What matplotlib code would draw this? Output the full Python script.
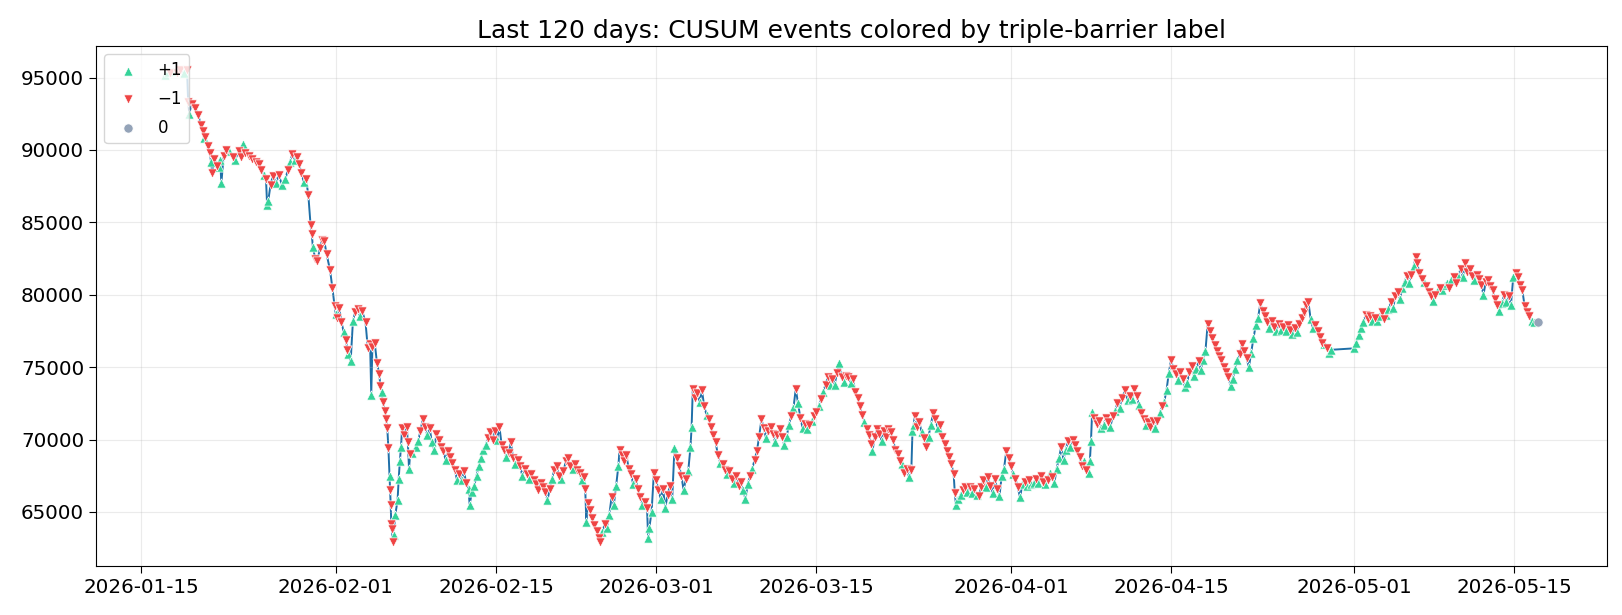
import numpy as np
import pandas as pd
import matplotlib
matplotlib.use('Agg')
import matplotlib.pyplot as plt
import matplotlib.dates as mdates

# event times as days after 2026-01-15, price at the event, triple-barrier label
start = pd.Timestamp('2026-01-15')

event_day = [
    2.05, 2.3, 2.5, 2.8, 3.1, 3.4, 3.7, 4.0, 4.1, 4.2,
    4.4, 4.7, 5.0, 5.2, 5.4, 5.5, 5.6, 5.8, 6.0, 6.1,
    6.2, 6.4, 6.6, 6.8, 6.9, 7.0, 7.2, 7.4, 7.7, 8.0,
    8.2, 8.5, 8.7, 8.9, 9.1, 9.4, 9.7, 10.0, 10.3, 10.5,
    10.7, 10.9, 11.0, 11.1, 11.3, 11.5, 11.8, 12.0, 12.3, 12.6,
    12.8, 13.0, 13.2, 13.4, 13.6, 13.8, 14.0, 14.2, 14.4, 14.6,
    14.8, 14.9, 15.0, 15.2, 15.4, 15.6, 15.8, 16.0, 16.2, 16.5,
    16.7, 16.9, 17.0, 17.1, 17.3, 17.5, 17.7, 17.9, 18.0, 18.1,
    18.3, 18.5, 18.7, 18.9, 19.1, 19.3, 19.6, 19.8, 20.0, 20.1,
    20.2, 20.4, 20.6, 20.8, 20.9, 21.0, 21.1, 21.3, 21.4, 21.5,
    21.6, 21.7, 21.75, 21.8, 21.85, 21.9, 22.0, 22.05, 22.2, 22.4,
    22.5, 22.6, 22.7, 22.8, 23.0, 23.2, 23.3, 23.4, 23.5, 23.7,
    24.0, 24.2, 24.4, 24.6, 24.8, 25.0, 25.2, 25.4, 25.6, 25.8,
    26.0, 26.2, 26.4, 26.6, 26.8, 27.0, 27.2, 27.4, 27.6, 27.8,
    28.0, 28.2, 28.4, 28.6, 28.7, 28.9, 29.1, 29.3, 29.5, 29.7,
    29.9, 30.1, 30.3, 30.5, 30.7, 30.9, 31.1, 31.3, 31.5, 31.7,
    31.9, 32.1, 32.3, 32.5, 32.7, 32.9, 33.1, 33.3, 33.5, 33.7,
    33.9, 34.1, 34.3, 34.5, 34.7, 34.9, 35.1, 35.3, 35.5, 35.7,
    35.9, 36.1, 36.3, 36.5, 36.7, 36.9, 37.1, 37.3, 37.5, 37.7,
    37.9, 38.1, 38.3, 38.5, 38.7, 38.8, 38.9, 39.0, 39.2, 39.4,
    39.6, 39.8, 40.0, 40.1, 40.3, 40.5, 40.7, 40.9, 41.1, 41.3,
    41.5, 41.7, 41.8, 42.0, 42.2, 42.4, 42.6, 42.8, 43.0, 43.2,
    43.4, 43.6, 43.8, 44.0, 44.2, 44.3, 44.4, 44.6, 44.8, 45.0,
    45.2, 45.4, 45.6, 45.8, 46.0, 46.2, 46.4, 46.6, 46.8, 47.0,
    47.2, 47.4, 47.6, 47.8, 48.0, 48.1, 48.2, 48.4, 48.6, 48.8,
    49.0, 49.2, 49.4, 49.6, 49.8, 50.0, 50.2, 50.4, 50.6, 50.8,
    51.0, 51.2, 51.4, 51.6, 51.8, 52.0, 52.2, 52.4, 52.6, 52.8,
    53.0, 53.2, 53.4, 53.6, 53.8, 54.0, 54.2, 54.4, 54.6, 54.8,
    55.0, 55.2, 55.4, 55.6, 55.8, 56.0, 56.2, 56.4, 56.6, 56.8,
    57.0, 57.2, 57.4, 57.6, 57.8, 58.0, 58.2, 58.4, 58.6, 58.8,
    59.0, 59.2, 59.4, 59.6, 59.8, 60.0, 60.2, 60.4, 60.6, 60.8,
    61.0, 61.2, 61.4, 61.6, 61.8, 62.0, 62.2, 62.4, 62.6, 62.8,
    63.0, 63.2, 63.4, 63.6, 63.8, 63.9, 64.1, 64.3, 64.5, 64.7,
    64.9, 65.1, 65.3, 65.5, 65.7, 65.9, 66.1, 66.3, 66.5, 66.7,
    66.9, 67.1, 67.3, 67.4, 67.5, 67.6, 67.8, 68.0, 68.2, 68.4,
    68.6, 68.8, 69.0, 69.2, 69.4, 69.6, 69.8, 70.0, 70.2, 70.4,
    70.6, 70.8, 71.0, 71.1, 71.2, 71.4, 71.6, 71.8, 72.0, 72.2,
    72.4, 72.6, 72.8, 73.0, 73.2, 73.4, 73.6, 73.8, 74.0, 74.2,
    74.4, 74.6, 74.8, 75.0, 75.2, 75.4, 75.6, 75.8, 76.0, 76.2,
    76.4, 76.6, 76.8, 77.0, 77.2, 77.4, 77.6, 77.8, 78.0, 78.2,
    78.4, 78.6, 78.8, 79.0, 79.2, 79.4, 79.6, 79.8, 80.0, 80.2,
    80.4, 80.6, 80.8, 81.0, 81.2, 81.4, 81.6, 81.8, 82.0, 82.2,
    82.4, 82.6, 82.8, 82.9, 83.0, 83.1, 83.3, 83.5, 83.7, 83.9,
    84.1, 84.3, 84.5, 84.7, 84.9, 85.1, 85.3, 85.5, 85.7, 86.0,
    86.2, 86.4, 86.6, 86.8, 87.0, 87.2, 87.4, 87.6, 87.8, 88.0,
    88.2, 88.4, 88.6, 88.8, 89.0, 89.2, 89.4, 89.6, 89.8, 90.0,
    90.2, 90.4, 90.6, 90.8, 91.0, 91.2, 91.4, 91.6, 91.8, 92.0,
    92.2, 92.4, 92.6, 92.8, 93.0, 93.2, 93.4, 93.6, 93.8, 94.0,
    94.2, 94.4, 94.6, 94.8, 95.0, 95.2, 95.4, 95.6, 95.8, 96.0,
    96.2, 96.4, 96.6, 96.8, 97.0, 97.2, 97.4, 97.6, 97.8, 98.0,
    98.2, 98.4, 98.6, 98.8, 99.0, 99.2, 99.4, 99.6, 99.8, 100.0,
    100.2, 100.4, 100.6, 100.8, 101.0, 101.2, 101.4, 101.6, 101.8, 102.0,
    102.2, 102.4, 102.6, 102.8, 103.0, 103.2, 103.4, 103.6, 103.8, 104.0,
    106.0, 106.2, 106.4, 106.6, 106.8, 107.0, 107.2, 107.4, 107.6, 107.8,
    108.0, 108.2, 108.4, 108.6, 108.8, 109.0, 109.2, 109.4, 109.6, 109.8,
    110.0, 110.2, 110.4, 110.6, 110.8, 111.0, 111.2, 111.4, 111.5, 111.7,
    111.9, 112.1, 112.3, 112.5, 112.7, 112.9, 113.1, 113.3, 113.5, 113.7,
    113.9, 114.1, 114.3, 114.5, 114.7, 114.9, 115.1, 115.3, 115.5, 115.7,
    115.9, 116.1, 116.3, 116.5, 116.7, 116.9, 117.1, 117.3, 117.5, 117.7,
    117.9, 118.1, 118.3, 118.5, 118.7, 118.9, 119.1, 119.3, 119.5, 119.7,
    119.9, 120.1, 120.3, 120.5, 120.7, 120.9, 121.1, 121.3, 121.5, 121.7,
    122.1,
]

event_price = [
    95200, 95400, 95300, 95450, 95350, 95500, 95300, 95550, 93300, 92500,
    93200, 92900, 92400, 91700, 91300, 90800, 90900, 90300, 89800, 89200,
    88400, 89400, 88900, 88800, 89300, 87700, 89600, 90000, 89900, 89500,
    89300, 89900, 89500, 90400, 89800, 89600, 89400, 89200, 89000, 88600,
    88300, 88000, 86200, 86500, 87600, 88200, 87700, 88300, 87600, 88000,
    88600, 89200, 89700, 89300, 89500, 89000, 88400, 87800, 88000, 86900,
    84800, 84200, 83300, 82500, 82300, 83200, 83800, 83700, 82800, 81700,
    80500, 79200, 78700, 78400, 79100, 78100, 77400, 76900, 76200, 75900,
    75400, 78200, 78800, 79000, 78500, 78900, 78100, 76300, 76600, 73100,
    76400, 76700, 75300, 74500, 73700, 73300, 72600, 72000, 71400, 70800,
    69400, 67500, 66500, 65500, 64200, 63800, 62900, 63400, 64800, 65800,
    67300, 68500, 69500, 70800, 70300, 70900, 69800, 68000, 69000, 69100,
    69500, 69900, 70600, 71400, 70900, 70300, 70800, 69800, 69300, 70400,
    70000, 69500, 69200, 68600, 69200, 68800, 68400, 67900, 67200, 67600,
    67200, 67800, 67000, 66600, 65500, 66400, 66800, 67500, 68200, 68700,
    69300, 69600, 70100, 70500, 70000, 70600, 70000, 70900, 69600, 69300,
    68800, 69100, 69800, 68700, 68300, 68600, 68200, 67500, 68000, 67600,
    67300, 67600, 67200, 66900, 66500, 67000, 66700, 66400, 65800, 66600,
    67300, 67900, 68200, 67500, 67300, 67800, 68500, 68700, 68200, 68000,
    68300, 67900, 67700, 67200, 67400, 66600, 64300, 65600, 65100, 64600,
    64100, 63700, 63200, 62900, 63600, 64200, 63900, 64800, 66000, 65500,
    66800, 68200, 69300, 68900, 68500, 68900, 68000, 67600, 66900, 67300,
    66600, 66000, 65500, 65700, 65300, 63200, 63900, 65000, 67700, 67200,
    66500, 65900, 66600, 65300, 66200, 66800, 65900, 69400, 68700, 68200,
    67500, 66500, 67300, 67800, 69500, 70900, 73500, 72900, 73200, 72600,
    73400, 72300, 71700, 71400, 70900, 70300, 69800, 68900, 68400, 68300,
    67900, 67600, 67800, 67300, 67000, 67500, 66800, 67100, 66500, 65900,
    66900, 67500, 68000, 68600, 69200, 70200, 71400, 70800, 70100, 70600,
    70900, 70400, 69800, 70300, 70700, 70200, 69600, 70200, 71000, 71600,
    72200, 73500, 72500, 71500, 70800, 71100, 70700, 71000, 71300, 71600,
    71900, 72300, 72800, 73300, 73800, 74300, 73800, 74200, 73800, 74600,
    75300, 74300, 74000, 74400, 74300, 73900, 74200, 73300, 72900, 72300,
    71700, 71200, 70700, 70300, 69700, 69200, 70200, 70700, 70400, 69900,
    70600, 70200, 70700, 70500, 70000, 69300, 69000, 68500, 68300, 67700,
    68000, 67400, 67900, 70600, 71000, 71600, 70900, 71200, 70500, 70100,
    69500, 70200, 71000, 71800, 71400, 70800, 71000, 70200, 69700, 69200,
    68800, 68300, 67600, 66300, 65500, 65900, 66200, 66500, 66700, 66400,
    66700, 66300, 66600, 66200, 66100, 66700, 67200, 66700, 67400, 66800,
    66300, 67300, 66600, 66100, 67500, 68000, 69200, 68700, 68200, 67600,
    67300, 66700, 66000, 66900, 67100, 66800, 67200, 66900, 67000, 67300,
    67000, 67500, 67100, 66900, 67200, 67700, 67400, 67000, 68000, 68700,
    69500, 68600, 69300, 69900, 69500, 70000, 69600, 69200, 68800, 68200,
    68500, 67900, 67700, 68500, 69900, 71900, 71500, 71100, 71300, 70800,
    71000, 71500, 71200, 70900, 71600, 72000, 72500, 72200, 72900, 73400,
    72700, 73000, 72800, 73500, 73000, 72400, 71800, 71400, 71000, 71200,
    70900, 71300, 70800, 71300, 71800, 72300, 72600, 73400, 74600, 75500,
    74900, 74500, 74100, 74700, 74200, 73600, 73900, 74700, 75100, 74400,
    74900, 75400, 74800, 75500, 76100, 78000, 77500, 77000, 76500, 76100,
    75800, 75500, 75000, 74700, 74300, 73700, 74200, 74900, 75500, 75900,
    76600, 76100, 75600, 75000, 76000, 77000, 77900, 78400, 79400, 78900,
    78500, 78100, 77700, 78200, 77800, 77500, 78000, 77600, 77800, 77500,
    77900, 77600, 77300, 77700, 77400, 78000, 78400, 78800, 79300, 79500,
    78300, 77700, 77900, 77500, 77100, 76700, 76600, 76300, 76000, 76200,
    76300, 76700, 77200, 77700, 78100, 78600, 78300, 78500, 78200, 78400,
    78200, 78500, 78800, 78300, 78600, 79000, 79500, 79100, 79900, 80200,
    79700, 80500, 80900, 81300, 80800, 81400, 82000, 82600, 82200, 81500,
    81100, 80900, 80600, 80200, 79900, 79600, 80000, 80300, 80500, 80300,
    80700, 80800, 80500, 81000, 81200, 80800, 81300, 81800, 81200, 82200,
    81600, 81800, 81300, 81000, 81400, 81100, 80700, 80000, 80900, 81000,
    80600, 80300, 79700, 79300, 78900, 79400, 80000, 79500, 79900, 79300,
    81200, 81500, 81200, 80700, 80300, 79200, 78800, 78500, 78200, 78100,
    78100,
]

event_label = [
    1, 1, -1, 1, -1, -1, 1, -1, -1, 1,
    -1, -1, -1, -1, -1, 1, -1, -1, -1, 1,
    -1, -1, -1, 1, 1, 1, -1, -1, 1, -1,
    1, -1, -1, 1, -1, -1, -1, -1, -1, -1,
    1, -1, 1, 1, -1, -1, 1, -1, 1, 1,
    -1, 1, -1, 1, -1, -1, -1, 1, -1, -1,
    -1, -1, 1, -1, -1, -1, -1, -1, -1, -1,
    -1, -1, 1, -1, -1, -1, 1, -1, -1, 1,
    1, 1, -1, -1, 1, -1, -1, -1, -1, 1,
    -1, -1, -1, -1, -1, 1, -1, -1, -1, -1,
    -1, 1, -1, -1, -1, -1, -1, 1, 1, 1,
    1, 1, 1, -1, -1, -1, -1, 1, -1, 1,
    1, 1, -1, -1, -1, 1, -1, 1, 1, -1,
    -1, -1, -1, 1, -1, -1, -1, -1, 1, -1,
    1, -1, -1, 1, 1, 1, 1, 1, 1, 1,
    1, 1, -1, -1, -1, -1, 1, -1, -1, -1,
    1, -1, -1, -1, 1, -1, -1, 1, -1, -1,
    1, -1, -1, -1, -1, -1, -1, -1, 1, -1,
    1, -1, -1, -1, 1, -1, -1, -1, -1, 1,
    -1, -1, -1, 1, -1, -1, 1, -1, -1, -1,
    -1, -1, -1, -1, 1, -1, 1, 1, -1, 1,
    1, 1, -1, -1, -1, -1, -1, -1, 1, -1,
    -1, -1, 1, -1, -1, 1, 1, 1, -1, -1,
    -1, 1, -1, 1, -1, -1, 1, 1, -1, -1,
    -1, 1, -1, 1, 1, 1, -1, -1, -1, 1,
    -1, -1, 1, -1, -1, -1, -1, -1, 1, -1,
    -1, 1, -1, -1, 1, -1, -1, -1, 1, 1,
    1, -1, 1, -1, -1, -1, -1, -1, 1, -1,
    -1, -1, 1, -1, -1, -1, 1, 1, 1, -1,
    1, -1, 1, -1, 1, -1, 1, -1, 1, -1,
    -1, 1, -1, 1, -1, -1, 1, -1, 1, -1,
    1, -1, 1, -1, -1, 1, -1, -1, -1, -1,
    -1, 1, -1, -1, -1, 1, -1, -1, -1, 1,
    -1, -1, -1, -1, -1, -1, -1, -1, 1, -1,
    -1, 1, -1, 1, 1, -1, -1, -1, 1, -1,
    -1, 1, 1, -1, -1, 1, -1, -1, -1, -1,
    -1, -1, -1, -1, 1, 1, 1, -1, -1, 1,
    -1, 1, -1, 1, -1, -1, -1, 1, -1, -1,
    1, -1, -1, 1, 1, 1, -1, -1, -1, 1,
    -1, -1, 1, 1, -1, 1, -1, 1, 1, -1,
    1, -1, -1, 1, -1, 1, -1, 1, 1, 1,
    -1, 1, 1, -1, 1, -1, -1, -1, -1, -1,
    1, -1, 1, 1, 1, 1, -1, -1, -1, 1,
    1, -1, -1, 1, -1, 1, -1, 1, -1, -1,
    1, -1, 1, -1, -1, 1, -1, -1, 1, -1,
    -1, -1, 1, -1, 1, -1, 1, 1, 1, -1,
    -1, -1, 1, -1, -1, 1, 1, -1, -1, 1,
    1, -1, 1, 1, 1, -1, -1, -1, -1, -1,
    -1, -1, -1, -1, -1, 1, 1, 1, 1, -1,
    -1, -1, -1, 1, 1, 1, 1, 1, -1, -1,
    -1, -1, 1, -1, -1, 1, -1, 1, -1, 1,
    -1, -1, 1, -1, 1, -1, -1, -1, -1, -1,
    1, 1, -1, -1, -1, -1, 1, -1, 1, 1,
    1, 1, 1, 1, 1, -1, -1, -1, 1, -1,
    1, 1, -1, -1, 1, 1, -1, 1, -1, -1,
    1, 1, 1, -1, 1, -1, 1, -1, -1, -1,
    -1, 1, -1, -1, -1, 1, -1, 1, -1, 1,
    1, 1, -1, 1, -1, -1, 1, -1, 1, -1,
    -1, -1, -1, 1, -1, -1, -1, 1, -1, -1,
    -1, -1, -1, -1, 1, 1, -1, 1, -1, 1,
    1, -1, -1, -1, -1, -1, -1, -1, 1, 1,
    0,
]

times = start + pd.to_timedelta(np.array(event_day), unit='D')
price = np.array(event_price, dtype=float)
label = np.array(event_label)

fig = plt.figure(figsize=(16.22, 6.15), dpi=100)
ax = fig.add_axes([0.0592, 0.0797, 0.9316, 0.8455])

# close price path underneath the event markers
ax.plot(times, price, color='#1f6fa8', lw=1.4, zorder=1)

styles = [
    (1, '^', '#34d399', '+1'),
    (-1, 'v', '#ef4444', '\u22121'),
    (0, 'o', '#94a3b8', '0'),
]
for val, mk, col, name in styles:
    sel = label == val
    ax.scatter(times[sel], price[sel], marker=mk, s=44, color=col,
               edgecolors='white', linewidths=0.5, label=name, zorder=3)

ax.xaxis.set_major_locator(mdates.DayLocator(bymonthday=[1, 15]))
ax.xaxis.set_major_formatter(mdates.DateFormatter('%Y-%m-%d'))
ax.grid(True, alpha=0.25)
ax.tick_params(labelsize=14.3, length=5)
ax.set_title('Last 120 days: CUSUM events colored by triple-barrier label', fontsize=18)
ax.legend(loc='upper left', fontsize=12, labelspacing=0.65)

fig.savefig('out.png', dpi=100)
